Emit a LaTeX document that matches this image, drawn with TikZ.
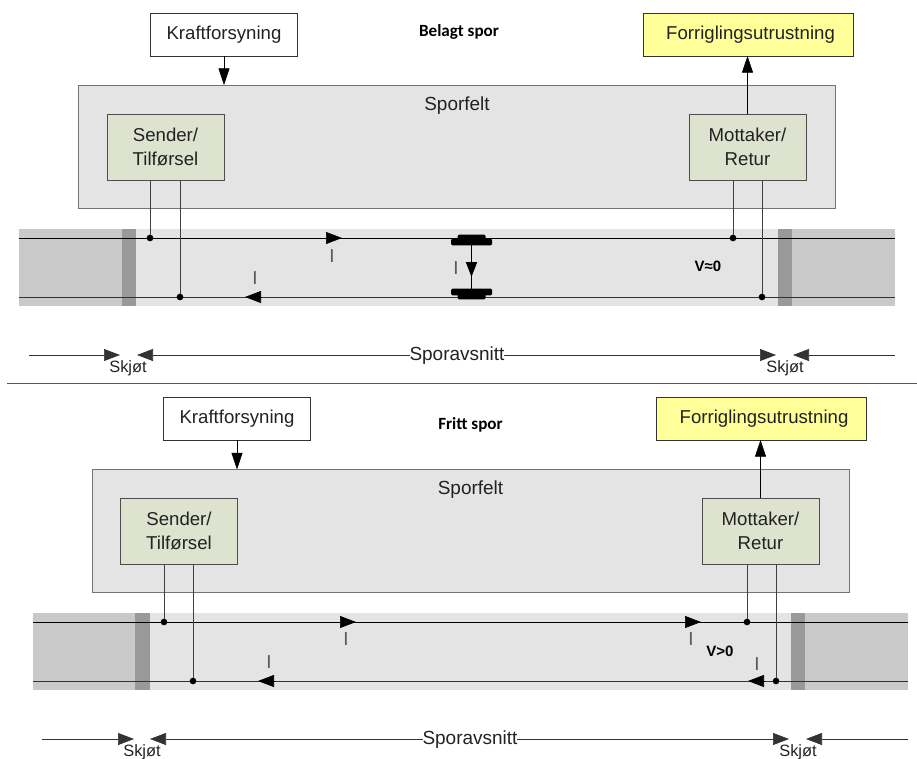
\documentclass[tikz,border=0pt]{standalone}
\usepackage{fontspec}
\setmainfont{Liberation Sans}
\newfontfamily\labelfont{Carlito}
\usetikzlibrary{arrows.meta}
\definecolor{track_grey}{HTML}{e4e4e4}
\definecolor{outer_grey}{HTML}{c9c9c9}
\definecolor{joint_grey}{HTML}{999999}
\definecolor{box_green}{HTML}{dde3cf}
\definecolor{box_yellow}{HTML}{ffff99}
\definecolor{text_dark}{HTML}{222222}
\tikzstyle{default} = [rectangle, draw=black!80, line width=0.6pt, inner sep=0pt, outer sep=0pt, text=text_dark, align=center, font=\fontsize{15.9}{20}\selectfont]
\tikzstyle{supply} = [default, fill=white, minimum width=4.4cm, minimum height=1.29cm]
\tikzstyle{interlock} = [supply, fill=box_yellow, minimum width=6.3cm]
\tikzstyle{field} = [default, draw=black!55, line width=0.8pt, fill=track_grey, minimum width=22.71cm, minimum height=3.69cm]
\tikzstyle{unit} = [default, draw=black!70, fill=box_green, minimum width=3.51cm, minimum height=1.98cm]
\tikzstyle{plain} = [inner sep=0pt, outer sep=0pt, text=text_dark, font=\fontsize{16.2}{19}\selectfont]
\tikzstyle{joint} = [inner sep=0pt, outer sep=0pt, text=text_dark, font=\fontsize{14}{16}\selectfont]
\tikzstyle{current} = [inner sep=0pt, outer sep=0pt, text=black!65, font=\fontsize{16}{18}\selectfont]
\tikzstyle{title} = [inner sep=0pt, outer sep=0pt, font=\labelfont\bfseries\fontsize{14.6}{17}\selectfont]
\tikzstyle{volt} = [inner sep=0pt, outer sep=0pt, font=\bfseries\fontsize{12.8}{15}\selectfont]
\tikzstyle{dot} = [circle, fill=black, minimum size=0.2cm, inner sep=0pt, outer sep=0pt]
\tikzstyle{flange} = [rectangle, fill=black, rounded corners=0.04cm, minimum width=1.23cm, minimum height=0.2cm, inner sep=0pt, outer sep=0pt]
\tikzstyle{tread} = [flange, minimum width=0.84cm, minimum height=0.2cm]
\tikzstyle{line} = [draw, line width=0.6pt, -{Triangle[length=0.5cm, width=0.33cm]}]
\tikzstyle{rail} = [draw, black, line width=0.6pt]
\tikzstyle{rail2} = [draw, black!80, line width=0.7pt]
\tikzstyle{tap} = [draw, black!75, line width=0.6pt]
\tikzstyle{head} = [-{Triangle[length=0.48cm, width=0.36cm]}, line width=0.6pt]

\begin{document}
\begin{tikzpicture}[x=0.03cm, y=-0.03cm]
   \useasboundingbox (0,0) rectangle (917,759);

   % Belagt spor
   \fill [track_grey] (19,229) rectangle (895,306);
   \fill [outer_grey] (19,229) rectangle (122,306);
   \fill [outer_grey] (792,229) rectangle (895,306);
   \fill [joint_grey] (122,229) rectangle (136,306);
   \fill [joint_grey] (778,229) rectangle (792,306);

   \node at (224,34.5) [supply] (supply A) {Kraftforsyning};
   \node at (748,34.5) [interlock] (interlock A) {\hspace*{0.15cm}Forriglingsutrustning};
   \node at (459,31.5) [title] (title A) {Belagt spor};
   \node at (456.5,146.5) [field] (field A) {};
   \node at (457,105.5) [plain] (field text A) {Sporfelt};
   \node at (165.5,147) [unit] (sender A) {Sender/\\Tilførsel};
   \node at (747.5,147) [unit] (receiver A) {Mottaker/\\Retur};
   \path [line] (supply A) -- (supply A |- field A.north);
   \path [line] (receiver A) -- (receiver A |- interlock A.south);

   \coordinate (rail A1 west) at (19,238);
   \coordinate (rail A1 east) at (895,238);
   \coordinate (rail A2 west) at (19,297);
   \coordinate (rail A2 east) at (895,297);
   \path [rail] (rail A1 west) -- (rail A1 east);
   \path [rail2] (rail A2 west) -- (rail A2 east);
   \node at (150,238) [dot] (dot A1) {};
   \node at (180,297) [dot] (dot A2) {};
   \node at (733,238) [dot] (dot A3) {};
   \node at (762,297) [dot] (dot A4) {};
   \path [tap] (dot A1 |- sender A.south) -- (dot A1);
   \path [tap] (dot A2 |- sender A.south) -- (dot A2);
   \path [tap] (dot A3 |- receiver A.south) -- (dot A3);
   \path [tap] (dot A4 |- receiver A.south) -- (dot A4);

   \coordinate (head A1) at (342,238);
   \coordinate (head A2) at (245,297);
   \draw [head] (326,238) -- (head A1);
   \draw [head] (261,297) -- (head A2);
   \node at (332,256) [current] (current A1) {I};
   \node at (255,278) [current] (current A2) {I};
   \node at (456,268) [current] (current A3) {I};
   \node at (708,266) [volt] (volt A) {V≈0};

   % Axle
   \node at (471.5,242) [flange] (flange A1) {};
   \node at (471.5,238) [tread] (tread A1) {};
   \node at (471.5,292) [flange] (flange A2) {};
   \node at (471.5,296) [tread] (tread A2) {};
   \draw [line width=1.6pt] (flange A1) -- (flange A2);
   \draw [-{Triangle[length=0.45cm, width=0.33cm]}, line width=1.6pt] (471.5,262) -- (471.5,277);

   \coordinate (measure A1) at (29,355);
   \coordinate (measure A2) at (120,355);
   \coordinate (measure A3) at (137,355);
   \coordinate (measure A4) at (776,355);
   \coordinate (measure A5) at (793,355);
   \coordinate (measure A6) at (895,355);
   \node at (457,355.5) [plain] (section A) {Sporavsnitt};
   \draw [head, black!80] (measure A1) -- (measure A2);
   \draw [head, black!80] (section A.west |- measure A1) -- (measure A3);
   \draw [head, black!80] (section A.east |- measure A1) -- (measure A4);
   \draw [head, black!80] (measure A6) -- (measure A5);
   \node at (128,368) [joint] (joint A1) {Skjøt};
   \node at (785,368) [joint] (joint A2) {Skjøt};

   \coordinate (divider west) at (7,383.5);
   \coordinate (divider east) at (917,383.5);
   \draw [black!65, line width=0.8pt] (divider west) -- (divider east);

   % Fritt spor
   \fill [track_grey] (33,613) rectangle (908,690);
   \fill [outer_grey] (33,613) rectangle (135,690);
   \fill [outer_grey] (805,613) rectangle (908,690);
   \fill [joint_grey] (135,613) rectangle (150,690);
   \fill [joint_grey] (791,613) rectangle (805,690);

   \node at (237,418.5) [supply] (supply B) {Kraftforsyning};
   \node at (761.5,418.5) [interlock] (interlock B) {\hspace*{0.15cm}Forriglingsutrustning};
   \node at (470.5,424.5) [title] (title B) {Fritt spor};
   \node at (470.5,531) [field] (field B) {};
   \node at (470.5,489.5) [plain] (field text B) {Sporfelt};
   \node at (179,531) [unit] (sender B) {Sender/\\Tilførsel};
   \node at (760.5,531) [unit] (receiver B) {Mottaker/\\Retur};
   \path [line] (supply B) -- (supply B |- field B.north);
   \path [line] (receiver B) -- (receiver B |- interlock B.south);

   \coordinate (rail B1 west) at (33,622);
   \coordinate (rail B1 east) at (908,622);
   \coordinate (rail B2 west) at (33,681);
   \coordinate (rail B2 east) at (908,681);
   \path [rail] (rail B1 west) -- (rail B1 east);
   \path [rail2] (rail B2 west) -- (rail B2 east);
   \node at (164,622) [dot] (dot B1) {};
   \node at (193,681) [dot] (dot B2) {};
   \node at (747,622) [dot] (dot B3) {};
   \node at (776,681) [dot] (dot B4) {};
   \path [tap] (dot B1 |- sender B.south) -- (dot B1);
   \path [tap] (dot B2 |- sender B.south) -- (dot B2);
   \path [tap] (dot B3 |- receiver B.south) -- (dot B3);
   \path [tap] (dot B4 |- receiver B.south) -- (dot B4);

   \coordinate (head B1) at (356,622);
   \coordinate (head B2) at (701,622);
   \coordinate (head B3) at (258,681);
   \coordinate (head B4) at (748,681);
   \draw [head] (340,622) -- (head B1);
   \draw [head] (685,622) -- (head B2);
   \draw [head] (274,681) -- (head B3);
   \draw [head] (764,681) -- (head B4);
   \node at (346,639) [current] (current B1) {I};
   \node at (269,662) [current] (current B2) {I};
   \node at (691,639) [current] (current B3) {I};
   \node at (757,664) [current] (current B4) {I};
   \node at (720,651) [volt] (volt B) {V>0};

   \coordinate (measure B1) at (42,739);
   \coordinate (measure B2) at (134,739);
   \coordinate (measure B3) at (150,739);
   \coordinate (measure B4) at (789,739);
   \coordinate (measure B5) at (806,739);
   \coordinate (measure B6) at (908,739);
   \node at (470,739.5) [plain] (section B) {Sporavsnitt};
   \draw [head, black!80] (measure B1) -- (measure B2);
   \draw [head, black!80] (section B.west |- measure B1) -- (measure B3);
   \draw [head, black!80] (section B.east |- measure B1) -- (measure B4);
   \draw [head, black!80] (measure B6) -- (measure B5);
   \node at (142,752) [joint] (joint B1) {Skjøt};
   \node at (798,752) [joint] (joint B2) {Skjøt};
\end{tikzpicture}
\end{document}
